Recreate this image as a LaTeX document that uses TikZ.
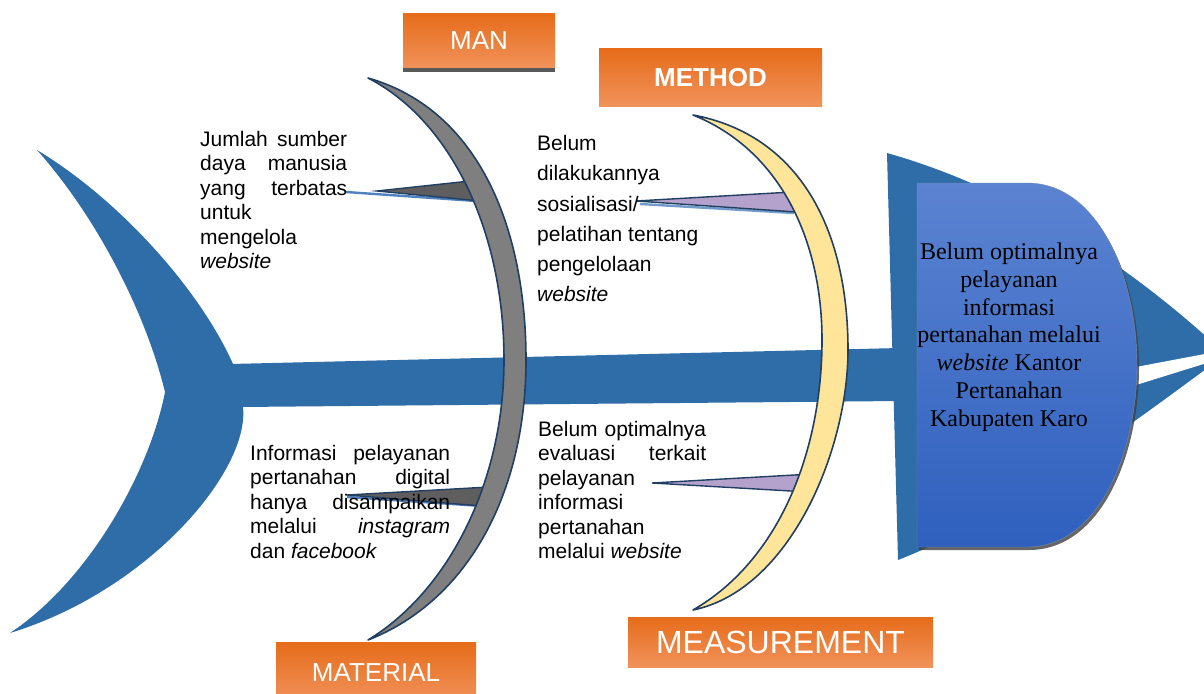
\documentclass[tikz,border=0pt]{standalone}
\usepackage{fontspec}
\setmainfont{Liberation Sans}
\newfontfamily\headserif{Liberation Serif}
\definecolor{fishblue}{HTML}{2E6DA8}
\definecolor{navy}{HTML}{213F63}
\definecolor{bonegrey}{HTML}{7F7F7F}
\definecolor{wedgegrey}{HTML}{5E5E5E}
\definecolor{boneyellow}{HTML}{FFE599}
\definecolor{lavender}{HTML}{B4A2CC}
\definecolor{orTop}{HTML}{E66C1A}
\definecolor{orBot}{HTML}{F1925B}
\definecolor{headTop}{HTML}{5B83D1}
\definecolor{headBot}{HTML}{2F60BE}
\definecolor{linkblue}{HTML}{4F81BD}
\begin{document}
\begin{tikzpicture}[x=1pt,y=-1pt,
  fish/.style={fill=fishblue,draw=none},
  bone/.style={draw=navy,line width=1.6pt,line join=round},
  wedge/.style={draw=navy,line width=1.4pt,line join=miter},
  link/.style={draw=linkblue,line width=2.4pt},
  catbox/.style={draw=none,top color=orTop,bottom color=orBot,text=white,inner sep=0},
  causetext/.style={font=\fontsize{21}{24.4}\selectfont,inner sep=0,align=left,anchor=north west},
]
\useasboundingbox (0,0) rectangle (1204,693);
\clip (0,0) rectangle (1204,693);

% tail
\fill[fish] (37,150) .. controls (120,200) and (200,290) .. (233,364)
  -- (243,407)
  .. controls (250,470) and (150,590) .. (10,633)
  .. controls (90,580) and (150,470) .. (165,392)
  .. controls (145,310) and (95,215) .. (37,150) -- cycle;
% spine
\fill[fish] (230,364) -- (900,348) -- (900,401) -- (240,407) -- cycle;
% head
\fill[fish] (887,153) .. controls (1000,185) and (1110,250) .. (1210,340)
  -- (1210,366) .. controls (1110,440) and (1000,520) .. (898,560) -- cycle;
\fill[white] (1120,370) -- (1210,353) -- (1210,362) -- (1120,390) -- cycle;

% effect box
\fill[black!75,opacity=0.8] (919,186) -- (1029,186) .. controls (1102,186) and (1139,283) .. (1139,368)
  .. controls (1139,453) and (1102,550) .. (1029,550) -- (919,550) -- cycle;
\shade[top color=headTop,bottom color=headBot,draw=navy!60,line width=0.4pt]
  (917,183) -- (1027,183) .. controls (1100,183) and (1137,280) .. (1137,365)
  .. controls (1137,450) and (1100,547) .. (1027,547) -- (917,547) -- cycle;
\node[anchor=north,inner sep=0,align=center,font=\headserif\fontsize{24}{27.7}\selectfont] (effect) at (1009,243)
  {Belum optimalnya\\pelayanan\\informasi\\pertanahan melalui\\\textit{website} Kantor\\Pertanahan\\Kabupaten Karo};

% causes: links and wedges
\draw[link] (346,192) -- (476,201);
\filldraw[wedge,fill=wedgegrey] (377,191) -- (470,181) -- (480,201) -- cycle;
\draw[link,draw=linkblue!80!white] (640,204) -- (794,213);
\filldraw[wedge,fill=lavender] (636,201) -- (792,192) -- (796,212) -- cycle;
\draw[link] (347,497) -- (482,506);
\filldraw[wedge,fill=wedgegrey] (347,495) -- (489,487) -- (482,506) -- cycle;
\filldraw[wedge,fill=lavender] (652,483) -- (812,474) -- (808,492) -- cycle;

% bones
\filldraw[bone,fill=bonegrey]
  (368,78) .. controls (450,120) and (504,230) .. (504,360)
  .. controls (504,480) and (450,590) .. (368,640)
  .. controls (470,600) and (526,490) .. (526,360)
  .. controls (526,230) and (480,110) .. (368,78) -- cycle;
\filldraw[bone,fill=boneyellow]
  (693,115) .. controls (780,150) and (822,240) .. (822,340)
  .. controls (822,450) and (780,560) .. (693,610)
  .. controls (790,590) and (848,450) .. (848,350)
  .. controls (848,230) and (800,135) .. (693,115) -- cycle;

% cause texts
\node[causetext] (manText) at (200,131) {%
  \makebox[147pt][s]{Jumlah sumber}\\
  \makebox[147pt][s]{daya manusia}\\
  \makebox[147pt][s]{yang terbatas}\\
  untuk\\mengelola\\\textit{website}};
\node[causetext] (materialText) at (250,445) {%
  \makebox[200pt][s]{Informasi pelayanan}\\
  \makebox[200pt][s]{pertanahan digital}\\
  \makebox[200pt][s]{hanya disampaikan}\\
  \makebox[200pt][s]{melalui \textit{instagram}}\\
  dan \textit{facebook}};
\node[causetext,font=\fontsize{21}{30.3}\selectfont] (methodText) at (537,135) {%
  Belum\\dilakukannya\\sosialisasi/\\pelatihan tentang\\pengelolaan\\\textit{website}};
\node[causetext] (measureText) at (538,421) {%
  \makebox[168pt][s]{Belum optimalnya}\\
  \makebox[168pt][s]{evaluasi terkait}\\
  pelayanan\\informasi\\pertanahan\\melalui \textit{website}};

% category boxes
\fill[black!65] (403,66) rectangle (555,72);
\node[catbox,minimum width=152pt,minimum height=54pt,font=\fontsize{26}{30}\selectfont] (man) at (479,41) {MAN};
\node[catbox,minimum width=223pt,minimum height=57pt,font=\bfseries\fontsize{26}{30}\selectfont] (method) at (710.5,77.5) {METHOD};
\node[catbox,minimum width=200pt,minimum height=60pt,font=\fontsize{26}{30}\selectfont,anchor=north] (material) at (376,642) {MATERIAL};
\node[catbox,minimum width=305pt,minimum height=50pt,font=\fontsize{32}{36}\selectfont] (measurement) at (780.5,642) {MEASUREMENT};
\end{tikzpicture}
\end{document}
